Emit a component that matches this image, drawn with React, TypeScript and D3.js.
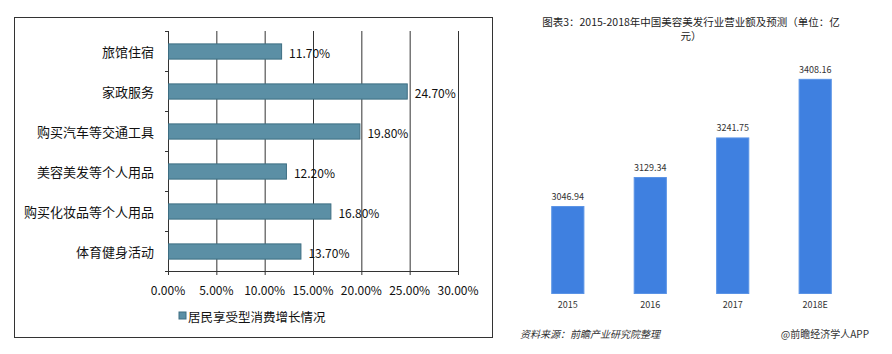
import React from "react";
import * as d3 from "d3";

// left chart: 居民享受型消费增长情况
const categories = ["旅馆住宿", "家政服务", "购买汽车等交通工具", "美容美发等个人用品", "购买化妆品等个人用品", "体育健身活动"];
const growth = [11.7, 24.7, 19.8, 12.2, 16.8, 13.7];
const xTicks = [0, 5, 10, 15, 20, 25, 30];
const leftLegend = "居民享受型消费增长情况";

// right chart: 营业额
const years = ["2015", "2016", "2017", "2018E"];
const revenue = [3046.94, 3129.34, 3241.75, 3408.16];
const rightTitle1 = "图表3：2015-2018年中国美容美发行业营业额及预测（单位：亿";
const rightTitle2 = "元）";
const sourceText = "资料来源：前瞻产业研究院整理";
const brandText = "@前瞻经济学人APP";

const FONT = "'Noto Sans CJK SC', 'Noto Sans', sans-serif";

const App = () => {
  // left
  const x = d3.scaleLinear().domain([0, 30]).range([168, 458]);
  const y = d3.scaleBand().domain(categories).range([31, 271]).paddingInner(0.62).paddingOuter(0.31);
  const step = y.step();

  // right
  const xr = d3.scaleBand().domain(years).range([527, 856]).paddingInner(0.61).paddingOuter(0.3);
  const yr = d3.scaleLinear().domain([2800, 3500]).range([293.5, 47]);

  return (
    <div style={{ position: "absolute", left: 0, top: 0 }}>
      <svg width={892} height={354} style={{ display: "block", background: "#fff", fontFamily: FONT }}>
        {/* left frame */}
        <rect x={14.5} y={17.5} width={478} height={320} fill="none" stroke="#333" strokeWidth={1} />

        {/* gridlines */}
        {xTicks.map(t => (
          <line key={t} x1={x(t) + 0.5} x2={x(t) + 0.5} y1={31} y2={275} stroke="#333" strokeWidth={1} />
        ))}
        {/* category ticks */}
        {d3.range(categories.length + 1).map(i => (
          <line key={i} x1={165} x2={168} y1={31 + i * step + 0.5} y2={31 + i * step + 0.5} stroke="#333" />
        ))}
        <line x1={165} x2={458.5} y1={271.5} y2={271.5} stroke="#333" />

        {categories.map((c, i) => (
          <g key={c}>
            <rect x={x(0) + 0.5} y={y(c)! + 0.5} width={x(growth[i]) - x(0)} height={y.bandwidth()}
              fill="#5b8fa5" stroke="#3e6e82" strokeWidth={1} />
            <text x={154} y={y(c)! + y.bandwidth() / 2} textAnchor="end" dominantBaseline="central"
              fontSize={13} fill="#111">{c}</text>
            <text x={x(growth[i]) + 8} y={y(c)! + y.bandwidth() / 2 + 1} dominantBaseline="central"
              fontSize={12} fill="#111">{growth[i].toFixed(2) + "%"}</text>
          </g>
        ))}
        {xTicks.map(t => (
          <text key={t} x={x(t)} y={289} textAnchor="middle" dominantBaseline="central" fontSize={12} fill="#111">
            {t.toFixed(2) + "%"}
          </text>
        ))}
        <rect x={179} y={312} width={7} height={7} fill="#5b8fa5" stroke="#3e6e82" />
        <text x={188} y={316} dominantBaseline="central" fontSize={12.5} fill="#111">{leftLegend}</text>

        {/* right chart */}
        <text x={691} y={21} textAnchor="middle" dominantBaseline="central" fontSize={10.5} fill="#222">{rightTitle1}</text>
        <text x={691} y={35.5} textAnchor="middle" dominantBaseline="central" fontSize={10.5} fill="#222">{rightTitle2}</text>
        {years.map((yy, i) => (
          <g key={yy}>
            <rect x={xr(yy)!} y={yr(revenue[i])} width={xr.bandwidth()} height={yr(2800) - yr(revenue[i])}
              fill="#3f80e0" stroke="#5a93e6" strokeWidth={1} />
            <text x={xr(yy)! + xr.bandwidth() / 2} y={yr(revenue[i]) - 10} textAnchor="middle" dominantBaseline="central"
              fontSize={9} fill="#333">{revenue[i].toFixed(2)}</text>
            <text x={xr(yy)! + xr.bandwidth() / 2} y={304} textAnchor="middle" dominantBaseline="central"
              fontSize={9} fill="#333">{yy}</text>
          </g>
        ))}
        <text x={520} y={333} dominantBaseline="central" fontSize={10} fontStyle="italic" fill="#333">{sourceText}</text>
        <text x={869} y={333} textAnchor="end" dominantBaseline="central" fontSize={10} fill="#333">{brandText}</text>
      </svg>
    </div>
  );
};

export default App;
